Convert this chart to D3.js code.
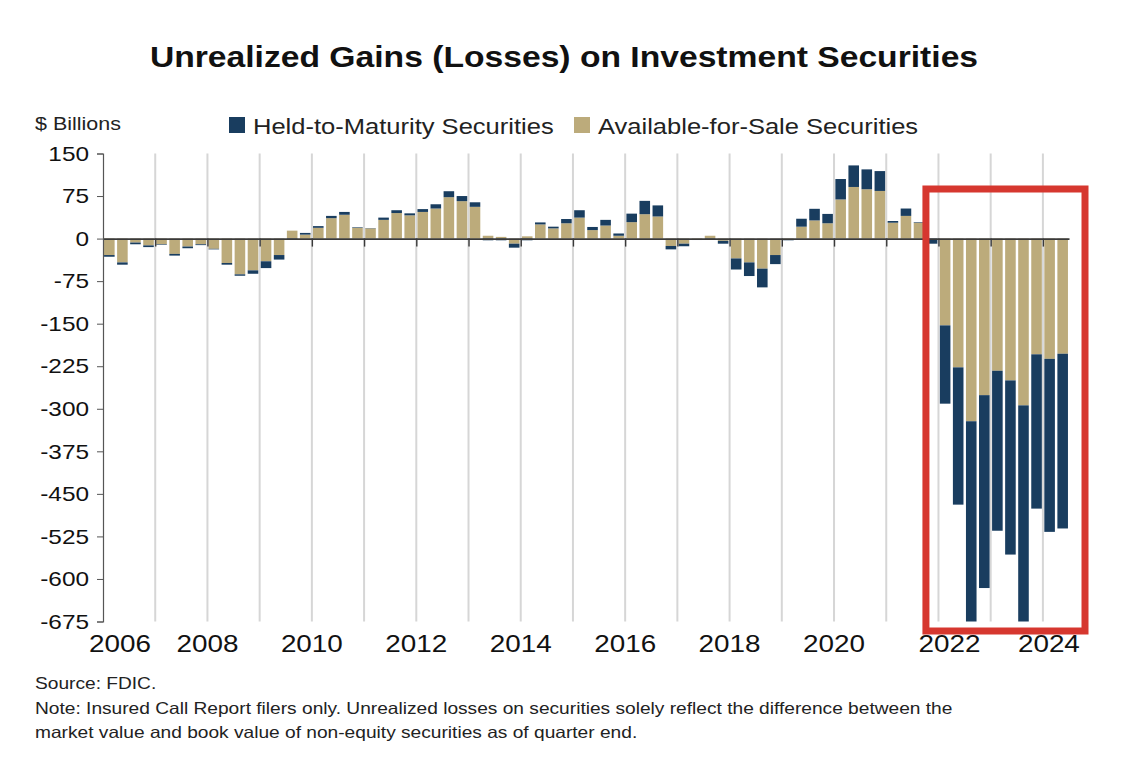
<!DOCTYPE html>
<html>
<head>
<meta charset="utf-8">
<script src="https://cdn.jsdelivr.net/npm/d3@7"></script>
<style>
  html, body { margin: 0; padding: 0; background: #fff; }
  svg { display: block; font-family: "Liberation Sans", Arial, sans-serif; }
</style>
</head>
<body>
<svg id="chart" width="1125" height="763"></svg>
<script>
// ---------------- DATA ----------------
const years = [2006, 2007, 2008, 2009, 2010, 2011, 2012, 2013, 2014, 2015,
               2016, 2017, 2018, 2019, 2020, 2021, 2022, 2023, 2024];
const quarterNames = ["Q1", "Q2", "Q3", "Q4"];
const lastQuarter = "2024Q2";

// Available-for-Sale unrealized gains (losses), $ billions, quarterly from 2006Q1
const afsValues = [
  -29, -42, -7, -12,
  -10, -27, -14, -10,
  -18, -43, -63, -56,
  -40, -29, 14, 7,
  19, 36, 42, 19,
  18, 33, 45, 41,
  47, 53, 73, 66,
  56, 5, 3, -9,
  4, 25, 18, 27,
  37, 15, 23, 5,
  29, 43, 39, -13,
  -9, -1, 5, -4,
  -35, -42, -53, -29,
  -1, 21, 32, 27,
  69, 91, 87, 84,
  28, 40, 28, 0,
  -153, -227, -322, -276,
  -233, -250, -294, -204,
  -212, -203
];
// Held-to-Maturity unrealized gains (losses), $ billions
const htmValues = [
  -3, -4, -3, -3,
  -1, -3, -3, -1.5,
  -1, -3, -2.5, -6,
  -12, -8, -2, 3,
  3, 4, 5, 1,
  0.5, 4, 5, 3.5,
  5, 7.5, 10.5, 9,
  8, -3, -3, -7,
  -3, 3.5, 3, 7.5,
  13, 5.5, 10, 4,
  15, 23.5, 19.5, -6,
  -4.5, -1.5, -1, -5,
  -19.5, -24, -33, -16,
  -2, 14, 20.5, 16.5,
  36, 38, 35, 35,
  3, 13, 1, -9,
  -138, -242, -368, -340,
  -282, -307, -390, -272,
  -305, -308
];

const yTicks = [150, 75, 0, -75, -150, -225, -300, -375, -450, -525, -600, -675];
const xLabelYears = [2006, 2008, 2010, 2012, 2014, 2016, 2018, 2020, 2022, 2024];
const gridYears = [2007, 2008, 2009, 2010, 2011, 2012, 2013, 2014, 2015, 2016,
                   2017, 2018, 2019, 2020, 2021, 2022, 2023, 2024];
const highlightYears = [2021.875, 2024.5]; // red box spans from 2021Q4 through 2024Q2

const seriesNames = ["Held-to-Maturity Securities", "Available-for-Sale Securities"];
const colors = { htm: "#193d5f", afs: "#bcab7b" };

// ---------------- BUILD ----------------
const K = 1.16; // horizontal text stretch of the reference
function stretch(sel, k) {
  sel.each(function () {
    const w = this.getComputedTextLength();
    d3.select(this).attr("textLength", w * (k || K)).attr("lengthAdjust", "spacingAndGlyphs");
  });
}

const quarters = [];
years.forEach(y => quarterNames.forEach(q => {
  const k = y + q;
  if (quarters.length === 0 || quarters[quarters.length - 1] !== lastQuarter) quarters.push(k);
}));
const rows = quarters.map((q, i) => ({ q, afs: afsValues[i], htm: htmValues[i] }));

const svg = d3.select("#chart");
const plot = { left: 103, right: 1069, top: 153.5, bottom: 621.5 };

const x = d3.scaleBand().domain(quarters).range([plot.left, plot.right])
  .paddingInner(0.19).paddingOuter(0.08);
const xt = d3.scaleLinear().domain([2006, 2024.5]).range([plot.left, plot.right]);
const y = d3.scaleLinear().domain([-675, 150]).range([plot.bottom, plot.top]);

// Title
svg.append("text").attr("x", 564).attr("y", 67).attr("text-anchor", "middle")
  .attr("font-size", 29).attr("font-weight", "bold").attr("fill", "#111")
  .text("Unrealized Gains (Losses) on Investment Securities").call(stretch);

// Units label
svg.append("text").attr("x", 35).attr("y", 130).attr("font-size", 19).attr("fill", "#222")
  .text("$ Billions").call(stretch, 1.13);

// Legend
const legend = svg.append("g");
const legItems = [
  { name: seriesNames[0], color: colors.htm, x: 229 },
  { name: seriesNames[1], color: colors.afs, x: 574 }
];
legItems.forEach(d => {
  legend.append("rect").attr("x", d.x).attr("y", 117).attr("width", 16).attr("height", 16)
    .attr("fill", d.color);
  legend.append("text").attr("x", d.x + 24).attr("y", 134).attr("font-size", 22)
    .attr("fill", "#222").text(d.name).call(stretch);
});

// Gridlines
svg.append("g").selectAll("line").data(gridYears).join("line")
  .attr("x1", d => xt(d)).attr("x2", d => xt(d))
  .attr("y1", plot.top).attr("y2", plot.bottom)
  .attr("stroke", "#d6d6d6").attr("stroke-width", 2);

// Bars (stacked, diverging)
const stack = d3.stack().keys(["afs", "htm"]).offset(d3.stackOffsetDiverging);
const series = stack(rows);
svg.append("clipPath").attr("id", "plotClip").append("rect")
  .attr("x", plot.left).attr("y", plot.top)
  .attr("width", plot.right - plot.left).attr("height", plot.bottom - plot.top);
const barsG = svg.append("g").attr("clip-path", "url(#plotClip)");
series.forEach(s => {
  barsG.append("g").attr("fill", colors[s.key]).selectAll("rect").data(s).join("rect")
    .attr("x", d => x(d.data.q))
    .attr("width", x.bandwidth())
    .attr("y", d => y(Math.max(d[0], d[1])))
    .attr("height", d => Math.abs(y(d[0]) - y(d[1])));
});

// Zero line with year ticks
const xAxis = d3.axisBottom(xt).tickValues(gridYears).tickSize(8).tickFormat("").tickSizeOuter(0);
const xg = svg.append("g").attr("transform", `translate(0,${y(0)})`).call(xAxis);
xg.select(".domain").attr("stroke", "#3a3a3a").attr("stroke-width", 1.6);
xg.selectAll(".tick line").attr("stroke", "#3a3a3a").attr("stroke-width", 1.4);

// Y axis
const yAxis = d3.axisLeft(y).tickValues(yTicks).tickSize(6).tickPadding(8).tickFormat(d => String(d));
const yg = svg.append("g").attr("transform", `translate(${plot.left},0)`).call(yAxis);
yg.select(".domain").attr("stroke", "#555").attr("stroke-width", 1.2);
yg.selectAll(".tick line").attr("stroke", "#555");
yg.selectAll(".tick text").attr("font-size", 21).attr("fill", "#111")
  .attr("font-family", "'Liberation Sans', Arial, sans-serif").call(stretch);

// X year labels
const xLabelShift = { 2006: 17, 2022: 11, 2024: 6 };
svg.append("g").selectAll("text").data(xLabelYears).join("text")
  .attr("x", d => xt(d) + (xLabelShift[d] || 0))
  .attr("y", 652).attr("text-anchor", "middle").attr("font-size", 24).attr("fill", "#111")
  .text(d => d).call(stretch);

// Highlight box
svg.append("rect")
  .attr("x", xt(highlightYears[0]) - 6).attr("y", 189)
  .attr("width", xt(highlightYears[1]) - xt(highlightYears[0]) + 22).attr("height", 442)
  .attr("fill", "none").attr("stroke", "#d6372f").attr("stroke-width", 7);

// Notes
const notes = [
  "Source: FDIC.",
  "Note: Insured Call Report filers only. Unrealized losses on securities solely reflect the difference between the",
  "market value and book value of non-equity securities as of quarter end."
];
svg.append("g").selectAll("text").data(notes).join("text")
  .attr("x", 35).attr("y", (d, i) => 689 + i * 24.5)
  .attr("font-size", 16.5).attr("fill", "#222").text(d => d).call(stretch);
</script>
</body>
</html>
